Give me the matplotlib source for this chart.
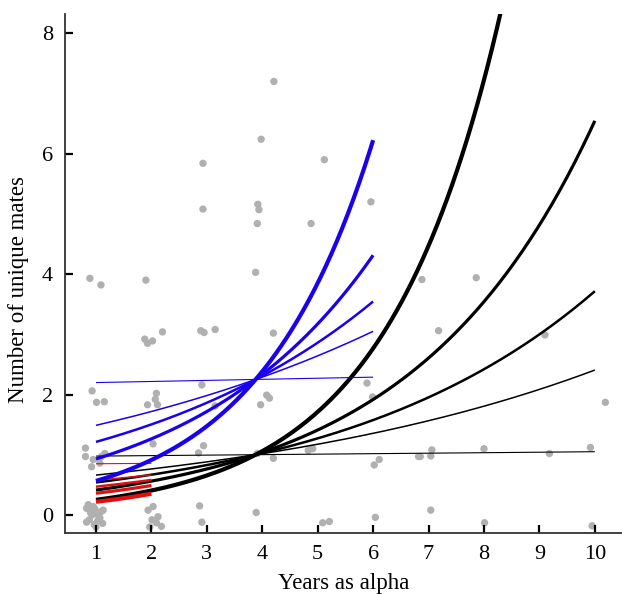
import numpy as np
import matplotlib
matplotlib.use('Agg')
import matplotlib.pyplot as plt

plt.rcParams['font.family'] = ['Liberation Serif', 'DejaVu Serif']

# puntos observados (años como alfa, número de parejas)
years_obs = [0.89, 1.09, 1.90, 2.93, 2.93, 4.21, 3.98, 3.92, 3.94, 3.91, 4.88, 3.88,
             5.12, 5.96, 2.89, 2.95, 3.15, 4.20, 2.91, 4.08, 4.13, 3.97, 3.15,
             2.94, 2.85, 3.91, 4.20, 4.83, 4.91, 2.87, 2.91, 3.89,
             5.89, 5.99, 6.02, 6.11, 6.82, 5.09, 5.21, 6.04,
             6.88, 7.86, 7.18, 9.10, 10.19, 6.85, 7.04, 7.06, 8.00, 9.18, 9.92,
             7.04, 8.01, 9.95,
             1.88, 1.93, 2.02, 2.20, 0.93, 1.01, 1.15, 2.09, 2.07, 1.93, 2.11, 2.03,
             0.81, 0.81, 0.95, 0.92, 1.16, 1.07, 1.10,
             0.83, 0.95, 1.01, 1.10, 0.88, 0.97, 0.83, 1.07, 1.13, 0.93, 0.90, 1.05,
             1.00, 0.86, 1.12, 0.98, 1.03,
             1.94, 2.01, 2.12, 2.18, 2.03, 2.09, 1.97]
mates_obs = [3.93, 3.82, 3.90, 5.84, 5.08, 7.20, 6.24, 5.16, 5.07, 4.84, 4.84, 4.03,
             5.90, 5.20, 3.06, 3.03, 3.08, 3.02, 2.16, 1.99, 1.94, 1.83, 1.81,
             1.15, 1.03, 1.02, 0.94, 1.07, 1.10, 0.15, -0.12, 0.04,
             2.19, 1.96, 0.83, 0.92, 0.97, -0.13, -0.11, -0.04,
             3.91, 3.94, 3.06, 2.99, 1.87, 0.97, 0.98, 1.08, 1.10, 1.02, 1.12,
             0.08, -0.13, -0.18,
             2.92, 2.85, 2.89, 3.04, 2.06, 1.87, 1.88, 2.02, 1.92, 1.83, 1.83, 1.18,
             1.11, 0.97, 0.92, 0.80, 1.02, 0.86, 0.97,
             0.11, 0.14, 0.03, 0.06, -0.08, -0.16, -0.12, -0.05, 0.08, 0.00, 0.04, -0.02,
             -0.20, 0.17, -0.14, 0.10, -0.10,
             0.08, -0.08, -0.03, -0.19, 0.14, -0.13, -0.20]

# curvas del modelo: tasa de crecimiento y nivel en el pivote
pivot_year = 3.88
rates = [0.48, 0.307, 0.2145, 0.1435, 0.008]
widths = [3.0, 2.3, 1.8, 1.1, 0.8]
level_black = 1.0
level_blue = 2.25
level_red = 0.87
span_black = (1, 10)
span_blue = (1, 6)
span_red = (1, 2)

fig = plt.figure(figsize=(6.22, 5.94), dpi=100)
ax = fig.add_axes([0.1053, 0.1027, 0.8947, 0.8737])

ax.scatter(years_obs, mates_obs, s=28, color='#b0b0b0', edgecolors='none', zorder=1)

def draw_group(level, span, color, z):
    xs = np.linspace(span[0], span[1], 200)
    for r, lw in zip(rates, widths):
        ax.plot(xs, level * np.exp(r * (xs - pivot_year)), color=color, lw=lw,
                solid_capstyle='butt', zorder=z)

draw_group(level_black, span_black, 'black', 2)
draw_group(level_red, span_red, '#e01010', 3)
draw_group(level_blue, span_blue, '#1a00f0', 4)

ax.set_xlim(0.45, 10.49)
ax.set_ylim(-0.30, 8.32)
ax.set_xticks(range(1, 11))
ax.set_yticks([0, 2, 4, 6, 8])
ax.tick_params(direction='in', length=6, width=1.6, labelsize=16, pad=9)
ax.spines['top'].set_visible(False)
ax.spines['right'].set_visible(False)
for s in ['left', 'bottom']:
    ax.spines[s].set_linewidth(1.3)
    ax.spines[s].set_color('#333333')

ax.set_xlabel('Years as alpha', fontsize=16.5, labelpad=6)
ax.set_ylabel('Number of unique mates', fontsize=16.5)
ax.yaxis.set_label_coords(-0.066, 0.47)

fig.savefig('out.png', dpi=100)
